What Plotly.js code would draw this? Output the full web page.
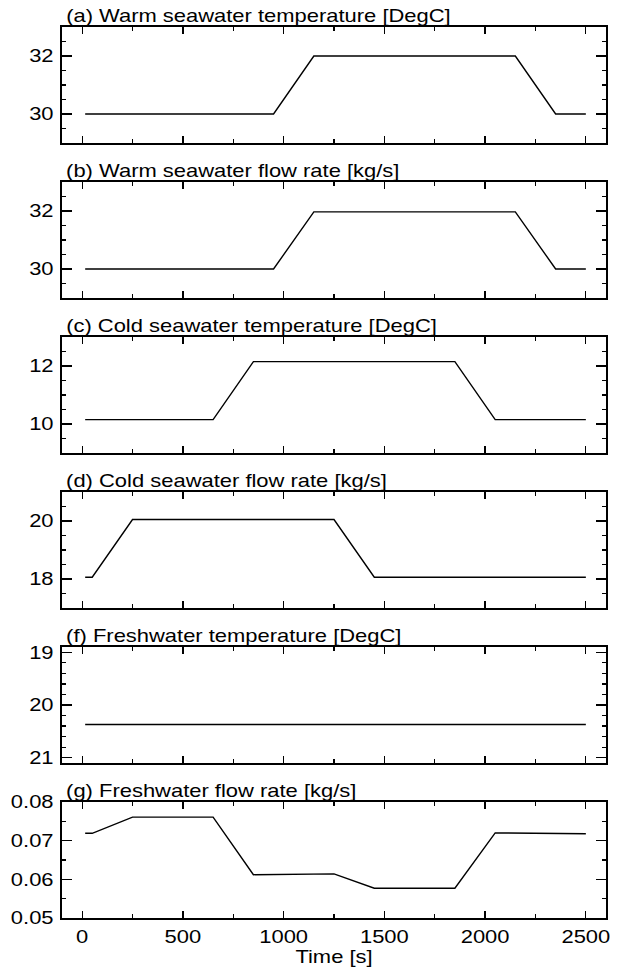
<!DOCTYPE html>
<html>
<head>
<meta charset="utf-8">
<script src="https://cdn.plot.ly/plotly-3.0.1.min.js"></script>
<style>html,body{margin:0;padding:0;background:#fff;}#chart{width:617px;height:972px;}</style>
</head>
<body>
<div id="chart"></div>
<script>
// ---- data ----
const titles = [
  "(a) Warm seawater temperature [DegC]",
  "(b) Warm seawater flow rate [kg/s]",
  "(c) Cold seawater temperature [DegC]",
  "(d) Cold seawater flow rate [kg/s]",
  "(f) Freshwater temperature [DegC]",
  "(g) Freshwater flow rate [kg/s]"
];
const tWarmT = [15, 950, 1150, 2150, 2350, 2500];
const vWarmT = [30, 30, 32, 32, 30, 30];
const tWarmF = [15, 950, 1150, 2150, 2350, 2500];
const vWarmF = [30, 30, 31.97, 31.97, 30, 30];
const tColdT = [15, 650, 850, 1850, 2050, 2500];
const vColdT = [10.15, 10.15, 12.15, 12.15, 10.15, 10.15];
const tColdF = [15, 50, 250, 1250, 1450, 2500];
const vColdF = [18.06, 18.06, 20.05, 20.05, 18.06, 18.06];
const tFreshT = [15, 2500];
const vFreshT = [20.37, 20.37];
const tFreshF = [15, 50, 250, 650, 850, 1250, 1450, 1850, 2050, 2500];
const vFreshF = [0.0719, 0.0719, 0.0761, 0.0761, 0.0612, 0.0614, 0.0577, 0.0577, 0.0720, 0.0718];

const xs = [tWarmT, tWarmF, tColdT, tColdF, tFreshT, tFreshF];
const ys = [vWarmT, vWarmF, vColdT, vColdF, vFreshT, vFreshF];
const yRanges = [[29, 33], [29, 33], [9, 13], [17, 21], [21.1, 18.9], [0.05, 0.08]];
const yDticks = [2, 2, 2, 2, 1, 0.01];
const yMinor = [0.5, 0.5, 0.5, 0.5, 0.2, 0.005];
const xTickVals = [0, 500, 1000, 1500, 2000, 2500];

// ---- layout geometry ----
const W = 617, H = 972;
const mT = 27, mB = 54, mL = 62, mR = 11;
const plotH = H - mT - mB;
const step = 155, panelH = 116;
const font = {family: "Liberation Sans, Arial, Helvetica, sans-serif", size: 18, color: "#000"};
const textStretch = 1.22;

const data = [];
const layout = {
  width: W, height: H,
  margin: {l: mL, r: mR, t: mT, b: mB, pad: 0},
  paper_bgcolor: "#fff", plot_bgcolor: "#fff",
  showlegend: false,
  font: font,
  annotations: []
};

for (let i = 0; i < 6; i++) {
  const n = i === 0 ? "" : String(i + 1);
  data.push({
    x: xs[i], y: ys[i], type: "scatter", mode: "lines",
    line: {color: "#000", width: 1.4},
    xaxis: "x" + n, yaxis: "y" + n, hoverinfo: "skip"
  });
  const top = 1 - (step * i) / plotH;
  const bot = 1 - (step * i + panelH) / plotH;
  const last = i === 5;
  layout["xaxis" + n] = {
    domain: [0, 1], anchor: "y" + n,
    range: [-100, 2600],
    matches: i === 0 ? undefined : "x",
    tickmode: "array", tickvals: xTickVals,
    showticklabels: last,
    ticks: "inside", ticklen: 7, tickwidth: 1.3, tickcolor: "#000",
    minor: {ticks: "inside", ticklen: 4, dtick: 250, tick0: 0, tickwidth: 1.3, tickcolor: "#000", showgrid: false},
    showline: true, linecolor: "#000", linewidth: 1.8, mirror: "allticks",
    showgrid: false, zeroline: false,
    tickfont: font, ticklabelstandoff: 2,
    title: last ? {text: "Time [s]", font: font, standoff: 2} : {text: ""}
  };
  layout["yaxis" + n] = {
    domain: [bot, top], anchor: "x" + n,
    range: yRanges[i],
    dtick: yDticks[i], tick0: 0,
    tickformat: last ? ".2f" : "",
    ticks: "inside", ticklen: 10, tickwidth: 1.3, tickcolor: "#000",
    minor: {ticks: "inside", ticklen: 4, dtick: yMinor[i], tick0: 0, tickwidth: 1.3, tickcolor: "#000", showgrid: false},
    showline: true, linecolor: "#000", linewidth: 1.8, mirror: "allticks",
    showgrid: false, zeroline: false,
    tickfont: font, ticklabelstandoff: 3
  };
  layout.annotations.push({
    text: titles[i], xref: "paper", yref: "paper",
    x: 0.006, y: top, xanchor: "left", yanchor: "bottom",
    showarrow: false, font: font, borderpad: 0
  });
}

Plotly.newPlot("chart", data, layout, {staticPlot: true, displayModeBar: false}).then(function (gd) {
  // widen glyphs horizontally (reference text is wider than it is tall)
  gd.querySelectorAll("text").forEach(function (t) {
    const bb = t.getBBox();
    if (!bb.width) return;
    const anchor = t.getAttribute("text-anchor") || "start";
    let ax;
    if (t.classList.contains("annotation-text")) ax = bb.x;
    else if (anchor === "end") ax = bb.x + bb.width;
    else if (anchor === "middle") ax = bb.x + bb.width / 2;
    else ax = bb.x;
    const ay = bb.y + bb.height / 2;
    const prev = t.getAttribute("transform") || "";
    t.setAttribute("transform", prev + " translate(" + ax + "," + ay + ") scale(" + textStretch + ",1) translate(" + (-ax) + "," + (-ay) + ")");
  });
});
</script>
</body>
</html>
